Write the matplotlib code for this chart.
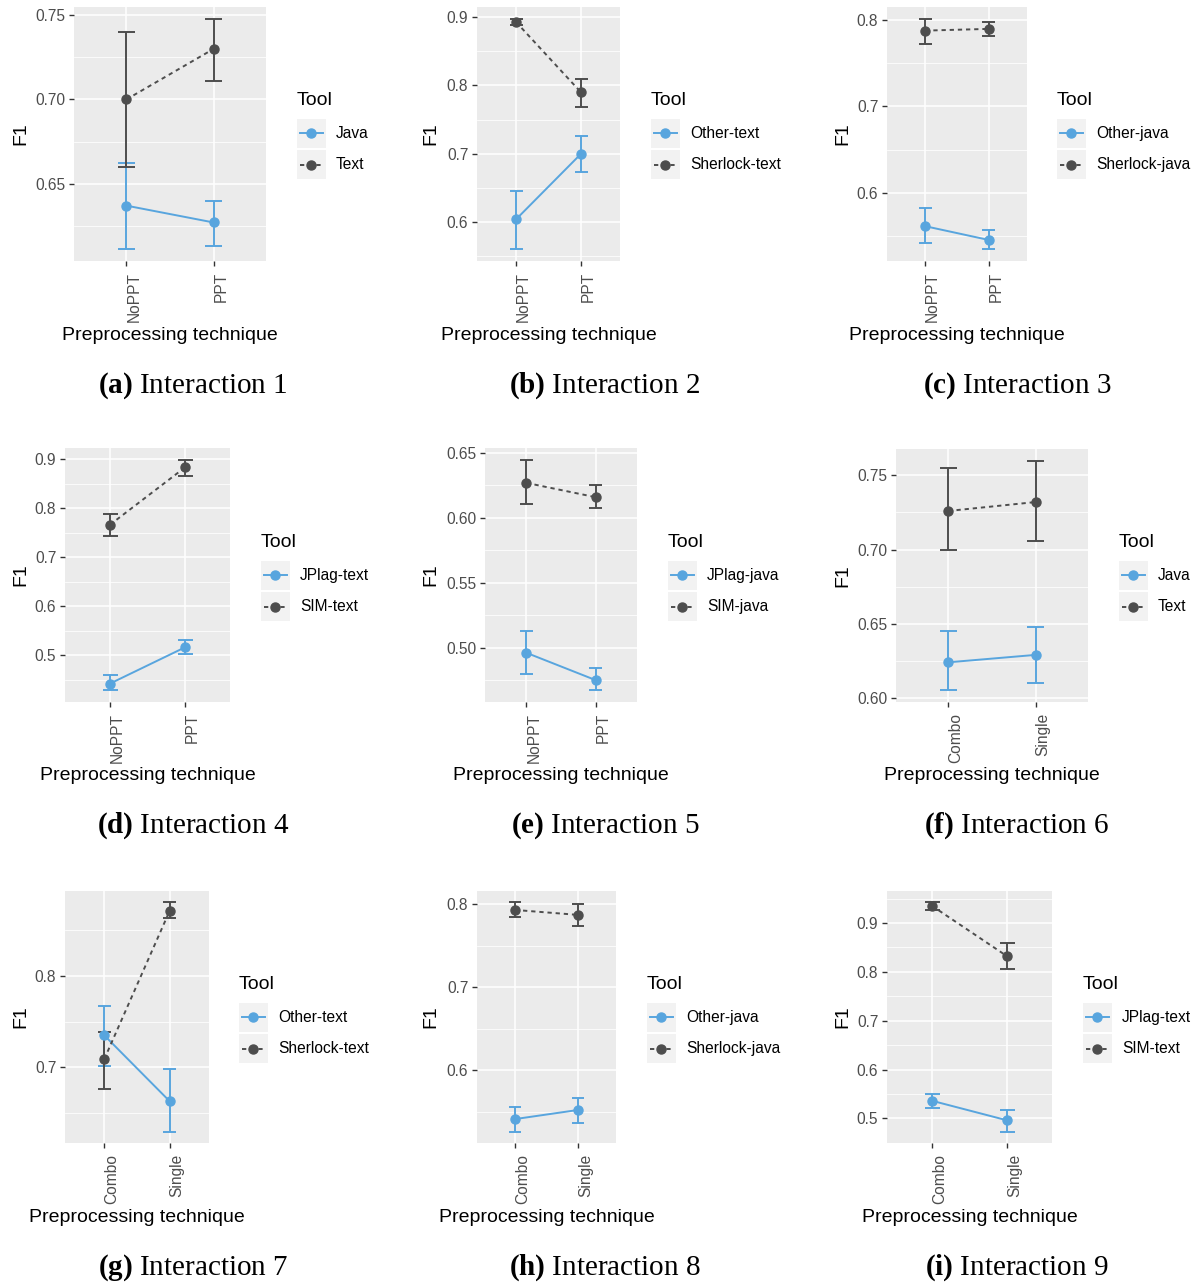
import matplotlib
matplotlib.use("Agg")
import matplotlib.pyplot as plt
import numpy as np
from matplotlib.lines import Line2D
from matplotlib.patches import Rectangle
from matplotlib.legend_handler import HandlerBase
from matplotlib.ticker import MultipleLocator, FormatStrFormatter
from matplotlib.transforms import blended_transform_factory

plt.rcParams['font.family'] = ['Liberation Sans', 'DejaVu Sans']
plt.rcParams['mathtext.fontset'] = 'custom'
plt.rcParams['mathtext.rm'] = 'Liberation Serif'
plt.rcParams['mathtext.bf'] = 'Liberation Serif:bold'

# --- data ---
technique_ppt = ['NoPPT', 'PPT']
technique_combo = ['Combo', 'Single']
techniques = [technique_ppt] * 5 + [technique_combo] * 4

tools = [('Java', 'Text'), ('Other-text', 'Sherlock-text'), ('Other-java', 'Sherlock-java'),
         ('JPlag-text', 'SIM-text'), ('JPlag-java', 'SIM-java'), ('Java', 'Text'),
         ('Other-text', 'Sherlock-text'), ('Other-java', 'Sherlock-java'), ('JPlag-text', 'SIM-text')]

blue_mean = [[0.637, 0.627], [0.604, 0.700], [0.561, 0.545], [0.442, 0.516], [0.496, 0.475],
             [0.624, 0.629], [0.735, 0.663], [0.541, 0.552], [0.536, 0.496]]
blue_lo = [[0.611, 0.613], [0.560, 0.674], [0.542, 0.534], [0.428, 0.502], [0.480, 0.467],
           [0.605, 0.610], [0.701, 0.630], [0.526, 0.536], [0.522, 0.473]]
blue_hi = [[0.662, 0.640], [0.645, 0.726], [0.582, 0.556], [0.459, 0.530], [0.513, 0.484],
           [0.645, 0.648], [0.767, 0.698], [0.556, 0.566], [0.549, 0.518]]

dark_mean = [[0.700, 0.730], [0.893, 0.790], [0.788, 0.790], [0.766, 0.883], [0.627, 0.616],
             [0.726, 0.732], [0.709, 0.871], [0.793, 0.787], [0.935, 0.832]]
dark_lo = [[0.660, 0.711], [0.889, 0.769], [0.773, 0.782], [0.744, 0.865], [0.611, 0.608],
           [0.700, 0.706], [0.676, 0.863], [0.784, 0.774], [0.927, 0.805]]
dark_hi = [[0.740, 0.748], [0.898, 0.810], [0.802, 0.798], [0.787, 0.899], [0.645, 0.625],
           [0.755, 0.760], [0.739, 0.880], [0.802, 0.800], [0.942, 0.859]]

captions = ['a', 'b', 'c', 'd', 'e', 'f', 'g', 'h', 'i']

# --- layout (pixels) ---
W, H = 1202, 1285
BLUE = '#58A5DE'
DARK = '#4D4D4D'
LW = 1.4

panel_box = [(74, 266, 7, 261), (477, 620, 7, 261), (887, 1027, 7, 261),
             (65, 230, 448, 702), (485, 637, 448, 702), (896, 1088, 449, 702),
             (65, 209, 891, 1143), (477, 616, 891, 1143), (887, 1052, 891, 1143)]
y_step = [0.05, 0.1, 0.1, 0.1, 0.05, 0.05, 0.1, 0.1, 0.1]
legend_pos = [(297, 119), (651, 119), (1057, 119), (261, 561), (668, 561), (1119, 561),
              (239, 1003), (647, 1003), (1083, 1003)]
ylabel_x = [25, 435, 847]
caption_x = [193, 605, 1017]
xlabel_base = [340, 780, 1222]
caption_base = [393, 833, 1275]


class KeyHandler(HandlerBase):
    """ggplot-like legend key: grey box with line and point."""
    def create_artists(self, legend, orig_handle, xdescent, ydescent,
                       width, height, fontsize, trans):
        bg = Rectangle((-xdescent, -ydescent), width, height,
                       facecolor='#F2F2F2', edgecolor='none', transform=trans)
        yc = -ydescent + height / 2
        x0 = -xdescent
        line = Line2D([x0 + 0.1 * width, x0 + 0.5 * width, x0 + 0.9 * width], [yc] * 3)
        line.update_from(orig_handle)
        line.set_markevery([1])
        line.set_transform(trans)
        return [bg, line]


fig = plt.figure(figsize=(W / 100, H / 100), dpi=100)

for i in range(9):
    l, r, t, b = panel_box[i]
    ax = fig.add_axes([l / W, 1 - b / H, (r - l) / W, (b - t) / H])
    ax.set_facecolor('#EBEBEB')
    for s in ax.spines.values():
        s.set_visible(False)

    x = np.arange(len(techniques[i]))
    series = [(blue_mean[i], blue_lo[i], blue_hi[i], BLUE, '-'),
              (dark_mean[i], dark_lo[i], dark_hi[i], DARK, (0, (2.2, 2.0)))]
    handles = []
    for mean, lo, hi, color, ls in series:
        ax.vlines(x, lo, hi, color=color, lw=LW, zorder=2)
        ax.hlines(lo, x - 0.1, x + 0.1, color=color, lw=LW, zorder=2)
        ax.hlines(hi, x - 0.1, x + 0.1, color=color, lw=LW, zorder=2)
        ax.plot(x, mean, color=color, lw=LW, ls=ls, zorder=3)
        ax.plot(x, mean, 'o', color=color, ms=6.5, zorder=4)
        handles.append(Line2D([], [], color=color, lw=LW, ls=ls, marker='o', ms=6.5))

    # ggplot-style expansion
    lo_all = min(blue_lo[i] + dark_lo[i])
    hi_all = max(blue_hi[i] + dark_hi[i])
    pad = 0.05 * (hi_all - lo_all)
    ax.set_ylim(lo_all - pad, hi_all + pad)
    ax.set_xlim(-0.6, len(x) - 0.4)

    step = y_step[i]
    ax.yaxis.set_major_locator(MultipleLocator(step))
    ax.yaxis.set_minor_locator(MultipleLocator(step / 2))
    ax.yaxis.set_major_formatter(FormatStrFormatter('%.2f' if step < 0.1 else '%.1f'))
    ax.set_xticks(x)
    ax.set_xticklabels(techniques[i], rotation=90, rotation_mode='anchor', ha='right', va='top')

    ax.grid(which='major', color='white', lw=1.1)
    ax.grid(which='minor', axis='y', color='white', lw=0.55)
    ax.set_axisbelow(True)
    ax.tick_params(which='major', length=3.8, width=1.0, color='#333333',
                   labelcolor='#4D4D4D', labelsize=11.2)
    ax.tick_params(axis='x', pad=4)
    ax.tick_params(axis='y', pad=2.5)
    ax.tick_params(which='minor', length=0)

    row, col = divmod(i, 3)
    ax.set_xlabel('Preprocessing technique', fontsize=14, va='baseline')
    ax.xaxis.set_label_coords(0.5, 1 - xlabel_base[row] / H,
                              transform=blended_transform_factory(ax.transAxes, fig.transFigure))
    ax.set_ylabel('F1', fontsize=14, va='baseline')
    ax.yaxis.set_label_coords(ylabel_x[col] / W, 0.5,
                              transform=blended_transform_factory(fig.transFigure, ax.transAxes))

    lx, ly = legend_pos[i]
    ax.legend(handles, tools[i], loc='upper left', bbox_to_anchor=(lx / W, 1 - ly / H),
              bbox_transform=fig.transFigure, frameon=False, fontsize=11.2,
              handlelength=1.864, handleheight=2.49, handletextpad=0.64,
              labelspacing=0.13, borderpad=0, borderaxespad=0,
              handler_map={Line2D: KeyHandler()})
    fig.text(lx / W, 1 - (ly - 14) / H, 'Tool', fontsize=14, va='baseline')

    fig.text(caption_x[col] / W, 1 - caption_base[row] / H,
             r'$\mathbf{(%s)}$ Interaction %d' % (captions[i], i + 1),
             family='Liberation Serif', fontsize=21, ha='center', va='baseline')

fig.savefig('out.png', dpi=100)
